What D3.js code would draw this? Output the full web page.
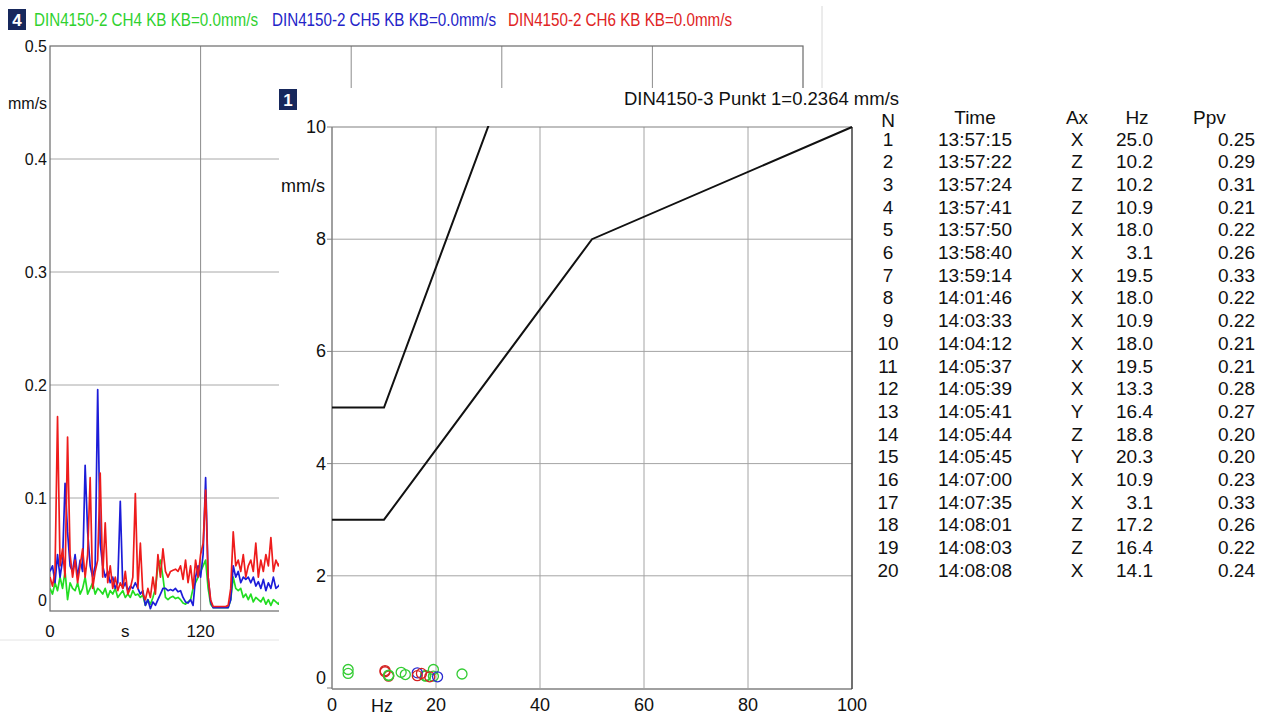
<!DOCTYPE html>
<html><head><meta charset="utf-8">
<script src="https://cdn.jsdelivr.net/npm/d3@7/dist/d3.min.js"></script>
<style>
html,body{margin:0;padding:0;background:#fff;}
svg{display:block;font-family:"Liberation Sans",Arial,sans-serif;}
</style></head>
<body>
<svg id="c" width="1272" height="717"></svg>
<script>
// ---------- Panel 4: time series (mm/s), sampled every 2 s ----------
const timeStep = 2;
const ch4Green = [0.02,0.015,0.025,0.018,0.03,0.02,0.035,0.01,0.025,0.02,0.018,0.025,0.015,0.02,0.03,0.015,0.02,0.025,0.015,0.02,0.018,0.015,0.02,0.012,0.018,0.015,0.02,0.012,0.015,0.018,0.012,0.015,0.012,0.018,0.014,0.015,0.012,0.014,0.005,0.01,0.006,0.012,0.02,0.04,0.045,0.03,0.012,0.01,0.012,0.013,0.011,0.012,0.01,0.007,0.006,0.008,0.01,0.02,0.025,0.03,0.035,0.04,0.045,0.02,0.006,0.003,0.003,0.003,0.003,0.003,0.003,0.003,0.01,0.03,0.02,0.018,0.02,0.012,0.015,0.01,0.015,0.008,0.012,0.01,0.008,0.012,0.006,0.01,0.005,0.01,0.008,0.006,0.01];
const ch5Blue = [0.035,0.04,0.025,0.05,0.03,0.045,0.113,0.07,0.04,0.035,0.05,0.03,0.045,0.035,0.129,0.07,0.04,0.03,0.04,0.196,0.06,0.04,0.03,0.035,0.025,0.03,0.02,0.025,0.097,0.02,0.025,0.018,0.022,0.02,0.025,0.02,0.015,0.018,0.005,0.01,0.002,0.008,0.005,0.01,0.015,0.02,0.02,0.018,0.019,0.018,0.02,0.017,0.018,0.012,0.008,0.007,0.01,0.005,0.03,0.04,0.03,0.05,0.118,0.03,0.008,0.003,0.003,0.003,0.003,0.003,0.003,0.003,0.01,0.04,0.03,0.035,0.025,0.03,0.028,0.03,0.025,0.03,0.022,0.026,0.02,0.028,0.018,0.025,0.02,0.03,0.02,0.022,0.025];
const ch6Red = [0.03,0.022,0.035,0.172,0.04,0.055,0.03,0.154,0.05,0.03,0.045,0.025,0.04,0.055,0.03,0.05,0.118,0.02,0.035,0.045,0.122,0.03,0.078,0.025,0.04,0.02,0.03,0.018,0.025,0.02,0.035,0.015,0.02,0.03,0.104,0.02,0.06,0.015,0.01,0.02,0.012,0.03,0.015,0.05,0.03,0.055,0.035,0.03,0.035,0.036,0.037,0.035,0.04,0.028,0.045,0.025,0.04,0.02,0.045,0.03,0.05,0.06,0.107,0.03,0.01,0.004,0.004,0.004,0.004,0.004,0.004,0.005,0.02,0.07,0.04,0.045,0.035,0.05,0.03,0.04,0.045,0.035,0.06,0.03,0.045,0.035,0.05,0.04,0.065,0.035,0.045,0.04,0.045];
const tsYTicks = [0, 0.1, 0.2, 0.3, 0.4, 0.5];
const tsXGrid = [120, 240, 360, 480];
const tsXLabels = [{v:0,t:"0"},{v:60,t:"s"},{v:120,t:"120"}];
const headerTexts = [
  {t:"DIN4150-2 CH4 KB KB=0.0mm/s", c:"#2fd12f"},
  {t:"DIN4150-2 CH5 KB KB=0.0mm/s", c:"#2424c8"},
  {t:"DIN4150-2 CH6 KB KB=0.0mm/s", c:"#e02424"}
];

// ---------- Panel 1: DIN4150-3 frequency chart ----------
const limitHz = [0, 10, 50, 100];
const limitUpper = [5, 5, 15, 20];
const limitLower = [3, 3, 8, 10];
const freqXTicks = [0, 20, 40, 60, 80, 100];
const freqYTicks = [0, 2, 4, 6, 8, 10];
const eventN    = [1,2,3,4,5,6,7,8,9,10,11,12,13,14,15,16,17,18,19,20];
const eventTime = ["13:57:15","13:57:22","13:57:24","13:57:41","13:57:50","13:58:40","13:59:14","14:01:46","14:03:33","14:04:12","14:05:37","14:05:39","14:05:41","14:05:44","14:05:45","14:07:00","14:07:35","14:08:01","14:08:03","14:08:08"];
const eventAx   = ["X","Z","Z","Z","X","X","X","X","X","X","X","X","Y","Z","Y","X","X","Z","Z","X"];
const eventHz   = [25.0,10.2,10.2,10.9,18.0,3.1,19.5,18.0,10.9,18.0,19.5,13.3,16.4,18.8,20.3,10.9,3.1,17.2,16.4,14.1];
const eventPpv  = [0.25,0.29,0.31,0.21,0.22,0.26,0.33,0.22,0.22,0.21,0.21,0.28,0.27,0.20,0.20,0.23,0.33,0.26,0.22,0.24];
const axColor = {X:"#33cc33", Y:"#2a2ad0", Z:"#d42020"};

const svg = d3.select("#c");

// ===== Panel 4 =====
const p4 = svg.append("g");
const tx = d3.scaleLinear().domain([0, 600]).range([50, 803]);
const ty = d3.scaleLinear().domain([0, 0.5]).range([611, 46]);

p4.append("line").attr("x1",822).attr("x2",822).attr("y1",6).attr("y2",640).attr("stroke","#d8d8d8");
p4.append("line").attr("x1",0).attr("x2",822).attr("y1",640).attr("y2",640).attr("stroke","#e4e4e4");

p4.append("rect").attr("x",8).attr("y",9).attr("width",18).attr("height",21).attr("fill","#17285c");
p4.append("text").attr("x",17).attr("y",20).attr("text-anchor","middle").attr("dominant-baseline","central")
  .attr("fill","#fff").attr("font-weight","bold").attr("font-size",17).text("4");

const hdrX = [34, 272, 508];
headerTexts.forEach((h,i)=>{
  p4.append("text").attr("transform",`translate(${hdrX[i]},20) scale(1,1.2)`).attr("dominant-baseline","central")
    .attr("font-size",15.2).attr("fill",h.c).text(h.t);
});

p4.selectAll(".hg").data(tsYTicks.filter(v=>v>0 && v<0.5)).join("line")
  .attr("x1",50).attr("x2",803).attr("y1",d=>ty(d)).attr("y2",d=>ty(d)).attr("stroke","#a8a8a8");
p4.selectAll(".vg").data(tsXGrid).join("line")
  .attr("x1",d=>tx(d)).attr("x2",d=>tx(d)).attr("y1",46).attr("y2",611).attr("stroke","#8c8c8c");
p4.append("rect").attr("x",50).attr("y",46).attr("width",753).attr("height",565)
  .attr("fill","none").attr("stroke","#6a6a6a").attr("stroke-width",1.2);

p4.selectAll(".yl").data(tsYTicks).join("text")
  .attr("x",47).attr("y",d=> d===0 ? ty(d)-11 : ty(d)).attr("text-anchor","end").attr("dominant-baseline","central")
  .attr("font-size",16).attr("fill","#111").text(d=> d===0 ? "0" : d3.format(".1f")(d));
p4.append("text").attr("x",8).attr("y",103).attr("dominant-baseline","central").attr("font-size",16).attr("fill","#111").text("mm/s");
p4.selectAll(".xl").data(tsXLabels).join("text")
  .attr("x",d=>tx(d.v)).attr("y",631).attr("text-anchor","middle").attr("dominant-baseline","central")
  .attr("font-size",17).attr("fill","#111").text(d=>d.t);

const tline = d3.line().x((d,i)=>tx(i*timeStep)).y(d=>ty(d));
p4.append("defs").append("clipPath").attr("id","tsclip").append("rect").attr("x",50).attr("y",46).attr("width",753).attr("height",566);
const sg = p4.append("g").attr("clip-path","url(#tsclip)");
[[ch4Green,"#22dd22"],[ch5Blue,"#1c1cd8"],[ch6Red,"#ee1c1c"]].forEach(([arr,col])=>{
  sg.append("path").attr("d",tline(arr)).attr("fill","none").attr("stroke",col).attr("stroke-width",1.7).attr("stroke-linejoin","round");
});

// ===== Panel 1 =====
const p1 = svg.append("g");
p1.append("rect").attr("x",279).attr("y",88).attr("width",993).attr("height",629).attr("fill","#fff");
p1.append("rect").attr("x",279).attr("y",89).attr("width",18).attr("height",21).attr("fill","#17285c");
p1.append("text").attr("x",288).attr("y",100).attr("text-anchor","middle").attr("dominant-baseline","central")
  .attr("fill","#fff").attr("font-weight","bold").attr("font-size",17).text("1");
p1.append("text").attr("x",624).attr("y",98).attr("dominant-baseline","central").attr("font-size",18.5).attr("fill","#111")
  .text("DIN4150-3 Punkt 1=0.2364 mm/s");

const fx = d3.scaleLinear().domain([0,100]).range([332,852]);
const fy = d3.scaleLinear().domain([0,10]).range([688,127]);

p1.selectAll(".fvg").data(freqXTicks.filter(v=>v>0&&v<100)).join("line")
  .attr("x1",d=>fx(d)).attr("x2",d=>fx(d)).attr("y1",127).attr("y2",688).attr("stroke","#a4a4a4");
p1.selectAll(".fhg").data(freqYTicks.filter(v=>v>0&&v<10)).join("line")
  .attr("x1",332).attr("x2",852).attr("y1",d=>fy(d)).attr("y2",d=>fy(d)).attr("stroke","#a4a4a4");
p1.append("line").attr("x1",332).attr("x2",852).attr("y1",127).attr("y2",127).attr("stroke","#808080").attr("stroke-width",1.2);
p1.append("line").attr("x1",332).attr("x2",332).attr("y1",127).attr("y2",689).attr("stroke","#808080").attr("stroke-width",1.5);
p1.append("line").attr("x1",332).attr("x2",852).attr("y1",689).attr("y2",689).attr("stroke","#808080").attr("stroke-width",1.5);
p1.append("line").attr("x1",852).attr("x2",852).attr("y1",127).attr("y2",689).attr("stroke","#404040").attr("stroke-width",1.5);
p1.selectAll(".ytk").data(freqYTicks).join("line").attr("x1",327).attr("x2",332).attr("y1",d=>fy(d)).attr("y2",d=>fy(d)).attr("stroke","#808080");

p1.selectAll(".fyl").data(freqYTicks).join("text")
  .attr("x",326).attr("y",d=> d===0 ? fy(d)-10 : fy(d)).attr("text-anchor","end").attr("dominant-baseline","central")
  .attr("font-size",18).attr("fill","#111").text(d=>d);
p1.append("text").attr("x",325).attr("y",186).attr("text-anchor","end").attr("dominant-baseline","central").attr("font-size",18).attr("fill","#111").text("mm/s");
p1.selectAll(".fxl").data(freqXTicks).join("text")
  .attr("x",d=>fx(d)).attr("y",705).attr("text-anchor","middle").attr("dominant-baseline","central")
  .attr("font-size",18).attr("fill","#111").text(d=>d);
p1.append("text").attr("x",fx(10)-2).attr("y",706).attr("text-anchor","middle").attr("dominant-baseline","central").attr("font-size",18).attr("fill","#111").text("Hz");

p1.append("defs").append("clipPath").attr("id","fclip").append("rect").attr("x",332).attr("y",126).attr("width",521).attr("height",563);
const lg = p1.append("g").attr("clip-path","url(#fclip)");
const fline = d3.line().x((d,i)=>fx(limitHz[i])).y(d=>fy(d));
[limitUpper, limitLower].forEach(arr=>{
  lg.append("path").attr("d",fline(arr)).attr("fill","none").attr("stroke","#111").attr("stroke-width",2);
});

p1.selectAll(".ev").data(eventN).join("circle")
  .attr("cx",(d,i)=>fx(eventHz[i])).attr("cy",(d,i)=>fy(eventPpv[i])).attr("r",5)
  .attr("fill","none").attr("stroke",(d,i)=>axColor[eventAx[i]]).attr("stroke-width",1.3);

const tbl = p1.append("g").attr("font-size",19).attr("fill","#111");
const hy = 120, r0 = 139, rs = 22.7;
tbl.append("text").attr("x",888).attr("y",hy).attr("text-anchor","middle").attr("dominant-baseline","central").text("N");
tbl.append("text").attr("x",975).attr("y",hy - 3).attr("text-anchor","middle").attr("dominant-baseline","central").text("Time");
tbl.append("text").attr("x",1077).attr("y",hy - 3).attr("text-anchor","middle").attr("dominant-baseline","central").text("Ax");
tbl.append("text").attr("x",1137).attr("y",hy - 3).attr("text-anchor","middle").attr("dominant-baseline","central").text("Hz");
tbl.append("text").attr("x",1193).attr("y",hy - 3).attr("dominant-baseline","central").text("Ppv");
eventN.forEach((n,i)=>{
  const y = r0 + i*rs;
  tbl.append("text").attr("x",888).attr("y",y).attr("text-anchor","middle").attr("dominant-baseline","central").text(n);
  tbl.append("text").attr("x",975).attr("y",y).attr("text-anchor","middle").attr("dominant-baseline","central").text(eventTime[i]);
  tbl.append("text").attr("x",1077).attr("y",y).attr("text-anchor","middle").attr("dominant-baseline","central").text(eventAx[i]);
  tbl.append("text").attr("x",1153).attr("y",y).attr("text-anchor","end").attr("dominant-baseline","central").text(eventHz[i].toFixed(1));
  tbl.append("text").attr("x",1255).attr("y",y).attr("text-anchor","end").attr("dominant-baseline","central").text(eventPpv[i].toFixed(2));
});
</script>
</body></html>
